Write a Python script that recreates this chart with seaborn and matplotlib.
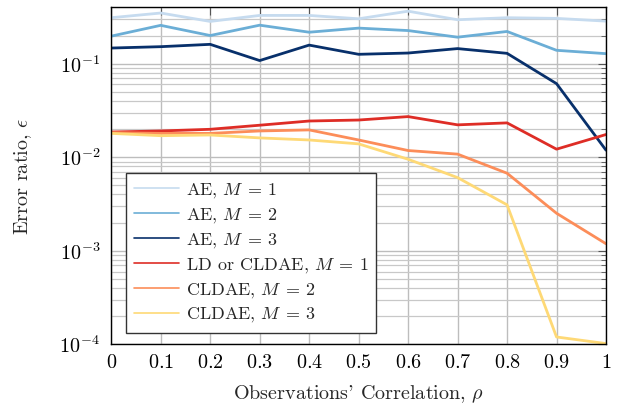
import numpy as np
import pandas as pd
import seaborn as sns
import matplotlib
matplotlib.use("Agg")
import matplotlib.pyplot as plt
from matplotlib.ticker import LogLocator, NullFormatter, FixedLocator

# data
rho = [0.0, 0.1, 0.2, 0.3, 0.4, 0.5, 0.6, 0.7, 0.8, 0.9, 1.0]
ae_m1 = [0.310, 0.348, 0.283, 0.328, 0.328, 0.302, 0.364, 0.295, 0.310, 0.305, 0.285]
ae_m2 = [0.197, 0.257, 0.200, 0.258, 0.217, 0.240, 0.226, 0.192, 0.221, 0.139, 0.128]
ae_m3 = [0.147, 0.152, 0.161, 0.108, 0.158, 0.126, 0.130, 0.145, 0.129, 0.0612, 0.0119]
ld_m1 = [0.0186, 0.0191, 0.0199, 0.0220, 0.0244, 0.0250, 0.0272, 0.0222, 0.0233, 0.0122, 0.0175]
cldae_m2 = [0.0183, 0.0180, 0.0180, 0.0191, 0.0196, 0.0153, 0.0118, 0.0108, 0.00675, 0.00252, 0.00119]
cldae_m3 = [0.0180, 0.0170, 0.0173, 0.0161, 0.0153, 0.0139, 0.00952, 0.00606, 0.00310, 0.000120, 0.000102]

labels = [r"AE, $M\:=\:1$", r"AE, $M\:=\:2$", r"AE, $M\:=\:3$",
          r"LD or CLDAE, $M\:=\:1$", r"CLDAE, $M\:=\:2$", r"CLDAE, $M\:=\:3$"]
colors = ["#c6dbef", "#6baed6", "#08306b", "#de2d26", "#fc8d59", "#fed976"]
series = [ae_m1, ae_m2, ae_m3, ld_m1, cldae_m2, cldae_m3]

df = pd.DataFrame({
    "rho": rho * len(series),
    "err": sum(series, []),
    "method": sum([[lab] * len(rho) for lab in labels], []),
})

sns.set_style("white")
plt.rcParams["font.family"] = ["cmr10", "DejaVu Serif"]
plt.rcParams["mathtext.fontset"] = "cm"
plt.rcParams["axes.formatter.use_mathtext"] = True

fig = plt.figure(figsize=(6.18, 4.09), dpi=100)
ax = fig.add_axes([0.18, 0.158, 0.8006, 0.824])

sns.lineplot(data=df, x="rho", y="err", hue="method", hue_order=labels,
             palette=dict(zip(labels, colors)), linewidth=2.0, ax=ax)

ax.set_yscale("log")
ax.set_xlim(0, 1)
ax.set_ylim(1e-4, 0.4)
ax.xaxis.set_major_locator(FixedLocator(rho))
ax.set_xticklabels([r"$%g$" % v for v in rho])
ax.yaxis.set_major_locator(LogLocator(base=10, numticks=10))
ax.yaxis.set_minor_locator(LogLocator(base=10, subs=np.arange(2, 10), numticks=20))
ax.yaxis.set_minor_formatter(NullFormatter())

ax.grid(True, which="major", color="#bdbdbd", linewidth=1.0)
ax.grid(True, which="minor", axis="y", color="#c8c8c8", linewidth=0.9)
ax.tick_params(which="both", direction="in", top=True, right=True,
               labelsize=14.5, colors="#555555", labelcolor="black")
ax.tick_params(which="major", length=6)
ax.tick_params(which="minor", length=3.5)
ax.tick_params(axis="x", pad=7)
ax.tick_params(axis="y", pad=8)
for s in ax.spines.values():
    s.set_color("black")
    s.set_linewidth(1.0)

ax.set_xlabel(r"Observations' Correlation, $\rho$", fontsize=14.5, labelpad=8)
ax.set_ylabel(r"Error ratio, $\epsilon$", fontsize=14.5, labelpad=18)

leg = ax.legend(loc="lower left", bbox_to_anchor=(0.03, 0.035), fontsize=13,
                frameon=True, fancybox=False, edgecolor="#333333",
                framealpha=1.0, handlelength=2.5, labelspacing=0.33,
                borderpad=0.45, handletextpad=0.35, borderaxespad=0)
leg.get_frame().set_linewidth(1.0)
for h in leg.get_lines():
    h.set_linewidth(1.2)

fig.savefig("out.png", dpi=100)
